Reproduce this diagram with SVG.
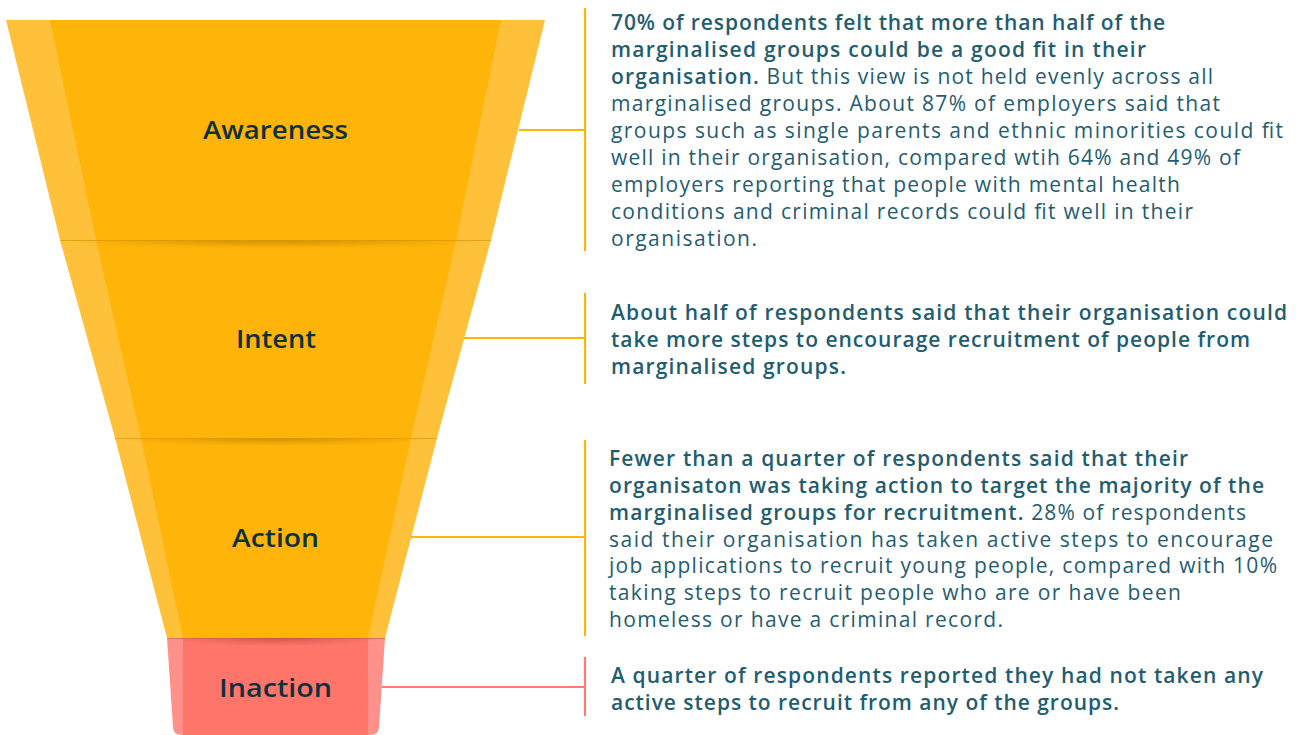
<svg xmlns="http://www.w3.org/2000/svg" width="1296" height="735" viewBox="0 0 1296 735">
<defs>
<style>
.side{fill:#FFC13A}.main{fill:#FFB409}
.sidep{fill:#FF918A}.mainp{fill:#FF756A}
.lbl{font-family:"Open Sans","Noto Sans",sans-serif;font-size:26px;font-weight:600;fill:#0E3140;text-anchor:middle}
.t{font-family:"Open Sans","Noto Sans",sans-serif;font-size:21px;font-weight:400;fill:#1F5D70}
.b{font-weight:600}
.cy{stroke:#FFB409;stroke-width:2.2;fill:none}
.cp{stroke:#FF7B72;stroke-width:2.2;fill:none}
.sepline{stroke:#D99A00;stroke-width:1.2;opacity:0.7}
</style>
<radialGradient id="sh" cx="0.5" cy="0" r="0.5">
<stop offset="0" stop-color="#B07800" stop-opacity="0.6"/>
<stop offset="0.6" stop-color="#B07800" stop-opacity="0.22"/>
<stop offset="1" stop-color="#B07800" stop-opacity="0"/>
</radialGradient>
<radialGradient id="shp" cx="0.5" cy="0" r="0.5">
<stop offset="0" stop-color="#A83A34" stop-opacity="0.55"/>
<stop offset="0.6" stop-color="#A83A34" stop-opacity="0.2"/>
<stop offset="1" stop-color="#A83A34" stop-opacity="0"/>
</radialGradient>
</defs>
<rect width="1296" height="735" fill="#FFFFFF"/>

<g id="awareness">
<path class="side" d="M6,20 L545,20 L491,240 L60,240 Z"/>
<path class="main" d="M50,20 L501,20 L456,240 L96,240 Z"/>
<text class="lbl" x="275.5" y="139" textLength="145" lengthAdjust="spacingAndGlyphs">Awareness</text>
</g>

<g id="intent">
<path class="side" d="M60,240 L491,240 L437,438 L115,438 Z"/>
<path class="main" d="M96,240 L456,240 L411,438 L141,438 Z"/>
<path d="M60,240 Q275.5,274 491,240 Z" fill="url(#sh)"/>
<line class="sepline" x1="60" y1="240.5" x2="491" y2="240.5"/>
<text class="lbl" x="276" y="348" textLength="80" lengthAdjust="spacingAndGlyphs">Intent</text>
</g>

<g id="action">
<path class="side" d="M115,438 L437,438 L385,638 L167,638 Z"/>
<path class="main" d="M141,438 L411,438 L368,638 L183,638 Z"/>
<path d="M115,438 Q276,470 437,438 Z" fill="url(#sh)"/>
<line class="sepline" x1="115" y1="438.5" x2="437" y2="438.5"/>
<text class="lbl" x="275.5" y="547" textLength="87" lengthAdjust="spacingAndGlyphs">Action</text>
</g>

<g id="inaction">
<path class="sidep" d="M167,638 L385,638 L379,727 Q378.5,735 371,735 L181,735 Q173.5,735 173,727 Z"/>
<path class="mainp" d="M183,638 L368,638 L368,735 L183,735 Z"/>
<path d="M167,638 Q276,670 385,638 Z" fill="url(#shp)"/>
<line x1="167" y1="638.5" x2="385" y2="638.5" stroke="#D05A52" stroke-width="1.2" opacity="0.6"/>
<text class="lbl" x="275.5" y="697" textLength="113" lengthAdjust="spacingAndGlyphs">Inaction</text>
</g>

<g id="connectors">
<path class="cy" d="M519,130 H585 M585,8 V251"/>
<path class="cy" d="M464,338 H585 M585,293 V384"/>
<path class="cy" d="M411,537 H585 M585,440 V636"/>
<path class="cp" d="M382,687 H585 M585,657 V716"/>
</g>

<g id="awareness-text">
<text class="t" x="611" y="30" textLength="554"><tspan class="b">70% of respondents felt that more than half of the</tspan></text>
<text class="t" x="611" y="57" textLength="535"><tspan class="b">marginalised groups could be a good fit in their</tspan></text>
<text class="t" x="611" y="84" textLength="602"><tspan class="b">organisation.</tspan> But this view is not held evenly across all</text>
<text class="t" x="611" y="111" textLength="609">marginalised groups. About 87% of employers said that</text>
<text class="t" x="611" y="138" textLength="672">groups such as single parents and ethnic minorities could fit</text>
<text class="t" x="611" y="165" textLength="629">well in their organisation, compared wtih 64% and 49% of</text>
<text class="t" x="611" y="192" textLength="569">employers reporting that people with mental health</text>
<text class="t" x="611" y="219" textLength="582">conditions and criminal records could fit well in their</text>
<text class="t" x="611" y="246" textLength="146">organisation.</text>
</g>

<g id="intent-text">
<text class="t b" x="611" y="320" textLength="676">About half of respondents said that their organisation could</text>
<text class="t b" x="611" y="347" textLength="639">take more steps to encourage recruitment of people from</text>
<text class="t b" x="611" y="374" textLength="235">marginalised groups.</text>
</g>

<g id="action-text">
<text class="t" x="609" y="466" textLength="579"><tspan class="b">Fewer than a quarter of respondents said that their</tspan></text>
<text class="t" x="609" y="493" textLength="655"><tspan class="b">organisaton was taking action to target the majority of the</tspan></text>
<text class="t" x="609" y="520" textLength="637"><tspan class="b">marginalised groups for recruitment.</tspan> 28% of respondents</text>
<text class="t" x="609" y="547" textLength="664">said their organisation has taken active steps to encourage</text>
<text class="t" x="609" y="573" textLength="668">job applications to recruit young people, compared with 10%</text>
<text class="t" x="609" y="600" textLength="572">taking steps to recruit people who are or have been</text>
<text class="t" x="609" y="627" textLength="394">homeless or have a criminal record.</text>
</g>

<g id="inaction-text">
<text class="t b" x="611" y="683" textLength="652">A quarter of respondents reported they had not taken any</text>
<text class="t b" x="611" y="710" textLength="508">active steps to recruit from any of the groups.</text>
</g>
</svg>
